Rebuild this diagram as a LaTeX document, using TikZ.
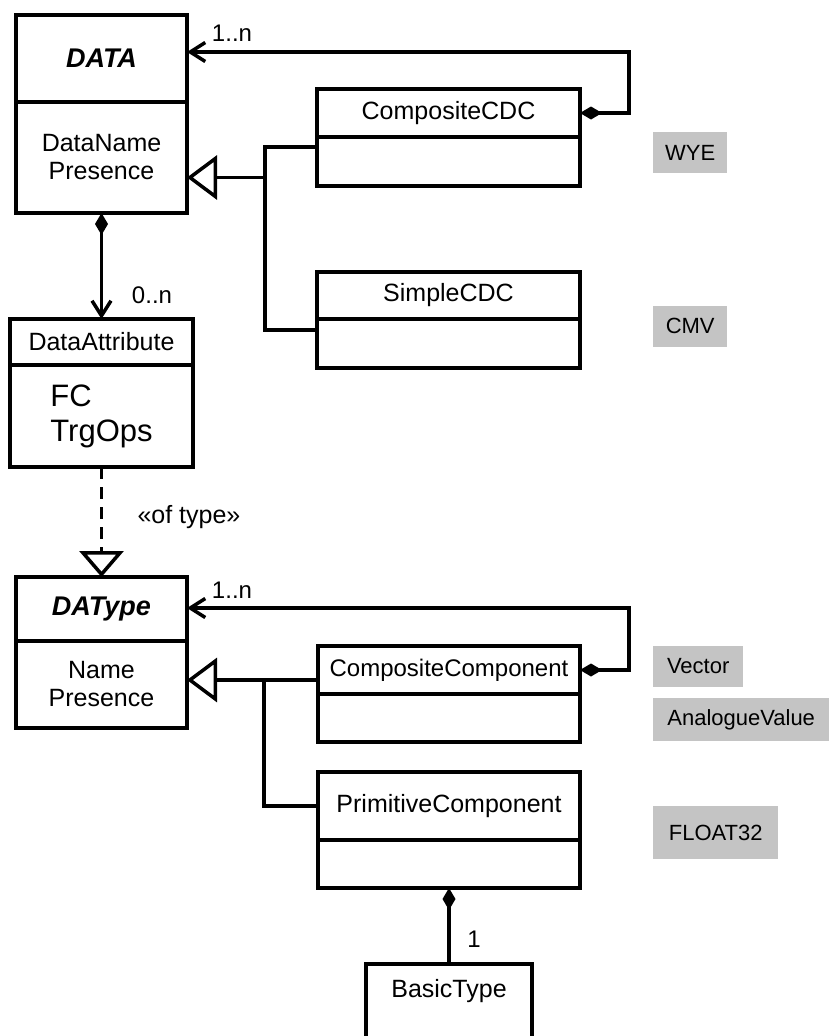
\documentclass[tikz,border=0pt]{standalone}
\usepackage{fontspec}
\setmainfont{Liberation Sans}
\usetikzlibrary{positioning,arrows.meta}
\definecolor{tagbg}{gray}{0.77}

\begin{document}
\begin{tikzpicture}[x=1pt,y=-1pt,
    cls/.style={draw,line width=4.4pt,inner sep=0pt,outer sep=0pt,align=center,font=\fontsize{25}{28}\selectfont},
    absname/.style={font=\fontsize{27}{30}\selectfont\bfseries\itshape},
    tag/.style={fill=tagbg,inner sep=0pt,anchor=west,minimum height=41pt,font=\fontsize{22}{26}\selectfont},
    mult/.style={inner sep=0pt,font=\fontsize{24}{28}\selectfont},
    link/.style={line width=3.5pt},
    comp/.style={link,{Diamond[length=22pt,width=13pt,line width=0pt]}-{Straight Barb[length=15pt,width=19pt]}},
    owns/.style={link,{Diamond[length=22pt,width=13pt,line width=0pt]}-},
    gen/.style={link,-{Triangle[open,length=30pt,width=44pt]}},
    real/.style={link,dash pattern=on 12pt off 8pt,-{Triangle[open,length=26pt,width=44pt]}}]
    \useasboundingbox (0,0) rectangle (829,1036);
    \clip (0,0) rectangle (829,1036);
    % Data side
    \node[cls,absname,anchor=north west,minimum width=171pt,minimum height=87pt] (data) at (16,15) {DATA};
    \node[cls,below=0pt of data,minimum width=171pt,minimum height=111pt] (data-a) {DataName\\Presence};
    \node[cls,anchor=north west,minimum width=263pt,minimum height=48pt] (ccdc) at (317,89) {CompositeCDC};
    \node[cls,below=0pt of ccdc,minimum width=263pt,minimum height=49pt] (ccdc-a) {};
    \node[cls,anchor=north west,minimum width=263pt,minimum height=47pt] (scdc) at (317,272) {SimpleCDC};
    \node[cls,below=0pt of scdc,minimum width=263pt,minimum height=49pt] (scdc-a) {};
    \node[cls,anchor=north west,minimum width=183pt,minimum height=46pt] (da) at (10,319) {DataAttribute};
    \node[cls,below=0pt of da,minimum width=183pt,minimum height=102pt,align=left,font=\fontsize{31}{35}\selectfont] (da-a) {FC\\TrgOps};
    % Type side
    \node[cls,absname,anchor=north west,minimum width=171pt,minimum height=64pt] (dt) at (16,577) {DAType};
    \node[cls,below=0pt of dt,minimum width=171pt,minimum height=87pt] (dt-a) {Name\\Presence};
    \node[cls,anchor=north west,minimum width=262pt,minimum height=48pt,font=\fontsize{24}{28}\selectfont] (cc) at (318,646) {CompositeComponent};
    \node[cls,below=0pt of cc,minimum width=262pt,minimum height=48pt] (cc-a) {};
    \node[cls,anchor=north west,minimum width=262pt,minimum height=68pt] (pc) at (318,772) {PrimitiveComponent};
    \node[cls,below=0pt of pc,minimum width=262pt,minimum height=48pt] (pc-a) {};
    \node[cls,anchor=north,minimum width=166pt,text height=25pt,text depth=70pt,inner ysep=8pt] (bt) at (449,964) {BasicType};
    % Examples (gray)
    \node[tag,minimum width=74pt] (wye) at (653,152.5) {WYE};
    \node[tag,minimum width=74pt] (cmv) at (653,326) {CMV};
    \node[tag,minimum width=90pt] (vec) at (653,666.5) {Vector};
    \node[tag,minimum width=176pt,minimum height=43pt] (av) at (653,719.5) {AnalogueValue};
    \node[tag,minimum width=125pt,minimum height=53pt] (f32) at (653,832.5) {FLOAT32};
    % Associations
    \draw[comp] (ccdc.east) -- ++(49,0) |- ([yshift=6.5pt]data.east);
    \draw[comp] (data-a.south) -- (da.north);
    \draw[real] (da-a.south) -- (dt.north);
    \draw[comp] (cc.east) -- ++(49,0) |- ([yshift=1pt]dt.east);
    \draw[owns] (pc-a.south) -- (bt.north);
    % Generalisation
    \coordinate (j1) at ([xshift=78pt,yshift=-20pt]data-a.east);
    \draw[gen] (j1) -- ([yshift=-20pt]data-a.east);
    \draw[link] ([yshift=-10pt]ccdc-a.north west) -| (j1) |- ([yshift=-11pt]scdc-a.north west);
    \coordinate (j2) at ([xshift=77pt,yshift=4.5pt]dt-a.east);
    \draw[gen] (j2) -- ([yshift=4.5pt]dt-a.east);
    \draw[link] ([yshift=-10pt]cc.west) -- (j2) |- (pc.west);
    % Multiplicities
    \node[mult] (m1) at (232,33) {1..n};
    \node[mult] (m2) at (152,295) {0..n};
    \node[mult,font=\fontsize{25}{28}\selectfont] (st) at (189,517) {«of type»};
    \node[mult] (m3) at (232,590) {1..n};
    \node[mult] (m4) at (474,939) {1};
\end{tikzpicture}
\end{document}
